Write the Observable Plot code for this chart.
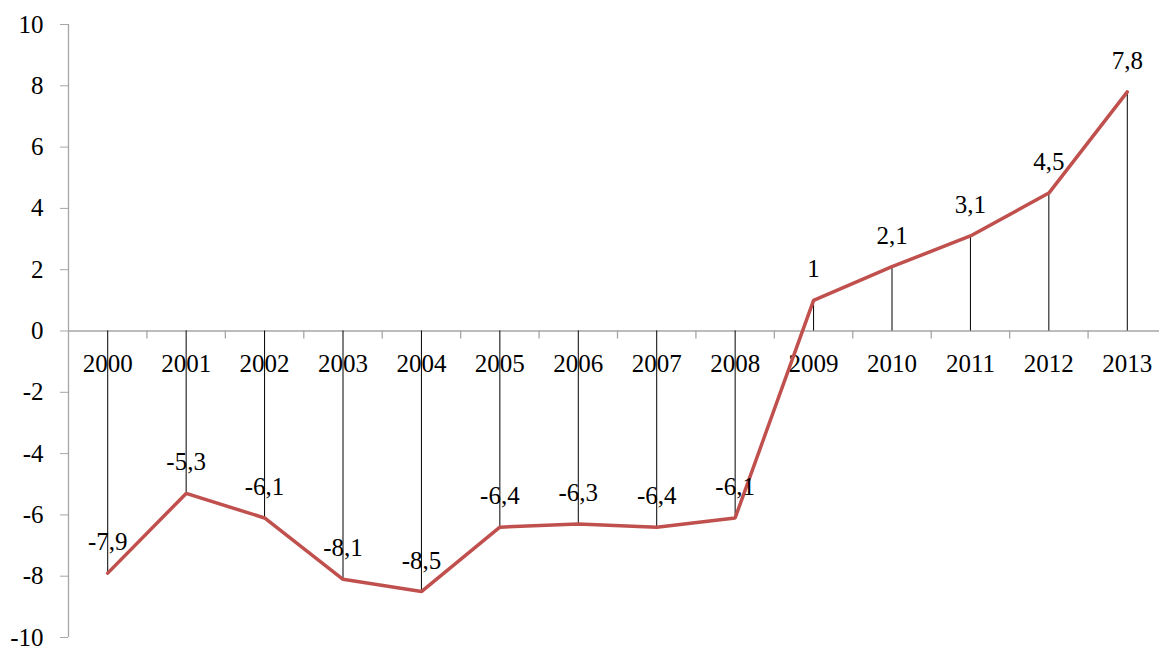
<!DOCTYPE html>
<html>
<head>
<meta charset="utf-8">
<script src="https://cdn.jsdelivr.net/npm/d3@7"></script>
<script src="https://cdn.jsdelivr.net/npm/@observablehq/plot@0.6"></script>
<style>
  html, body { margin: 0; padding: 0; background: #fff; overflow: hidden; }
  #chart { width: 1159px; height: 646px; overflow: hidden; }
  #chart svg, #chart svg text { font-family: "Liberation Serif", "Times New Roman", serif !important; }
</style>
</head>
<body>
<div id="chart"></div>
<script>
const years = ["2000","2001","2002","2003","2004","2005","2006","2007","2008","2009","2010","2011","2012","2013"];
const values = [-7.9, -5.3, -6.1, -8.1, -8.5, -6.4, -6.3, -6.4, -6.1, 1, 2.1, 3.1, 4.5, 7.8];
const yTicks = [-10, -8, -6, -4, -2, 0, 2, 4, 6, 8, 10];

const data = years.map((year, i) => ({i, year, value: values[i]}));
const boundaries = years.slice(1).map((_, i) => i + 0.5);

const fmt = v => String(v).replace(".", ",");
const font = "Liberation Serif";
const axisGray = "#a6a6a6";

const chart = Plot.plot({
  width: 1159,
  height: 646,
  marginLeft: 68,
  marginRight: -7,
  marginTop: 24,
  marginBottom: 9,
  style: {fontFamily: font, fontSize: "25px", background: "#fff", overflow: "visible"},
  x: {type: "linear", domain: [-0.5, years.length - 0.5], axis: null},
  y: {domain: [-10, 10], axis: null, label: null},
  marks: [
    Plot.ruleX([-0.5], {stroke: axisGray, strokeWidth: 1.3}),
    Plot.axisY({
      ticks: yTicks, tickSize: 8, tickPadding: 17, label: null,
      tickFormat: d => String(d),
      stroke: axisGray, fill: "black", fontSize: 25, fontFamily: font
    }),
    Plot.ruleY([0], {stroke: axisGray, strokeWidth: 1.3}),
    Plot.ruleX(boundaries, {x: d => d, y1: 0, y2: 0, insetBottom: -8, stroke: axisGray, strokeWidth: 1.3}),
    Plot.text(data, {x: "i", y: 0, text: "year", dy: 33, fontSize: 25, fontFamily: font, fill: "black"}),
    Plot.ruleX(data, {x: "i", y1: 0, y2: "value", stroke: "black", strokeWidth: 1}),
    Plot.line(data, {x: "i", y: "value", stroke: "#c0504d", strokeWidth: 3.5, strokeLinejoin: "miter"}),
    Plot.text(data, {x: "i", y: "value", text: d => fmt(d.value), dy: -31, fontSize: 25, fontFamily: font, fill: "black"})
  ]
});
document.getElementById("chart").appendChild(chart);
</script>
</body>
</html>
